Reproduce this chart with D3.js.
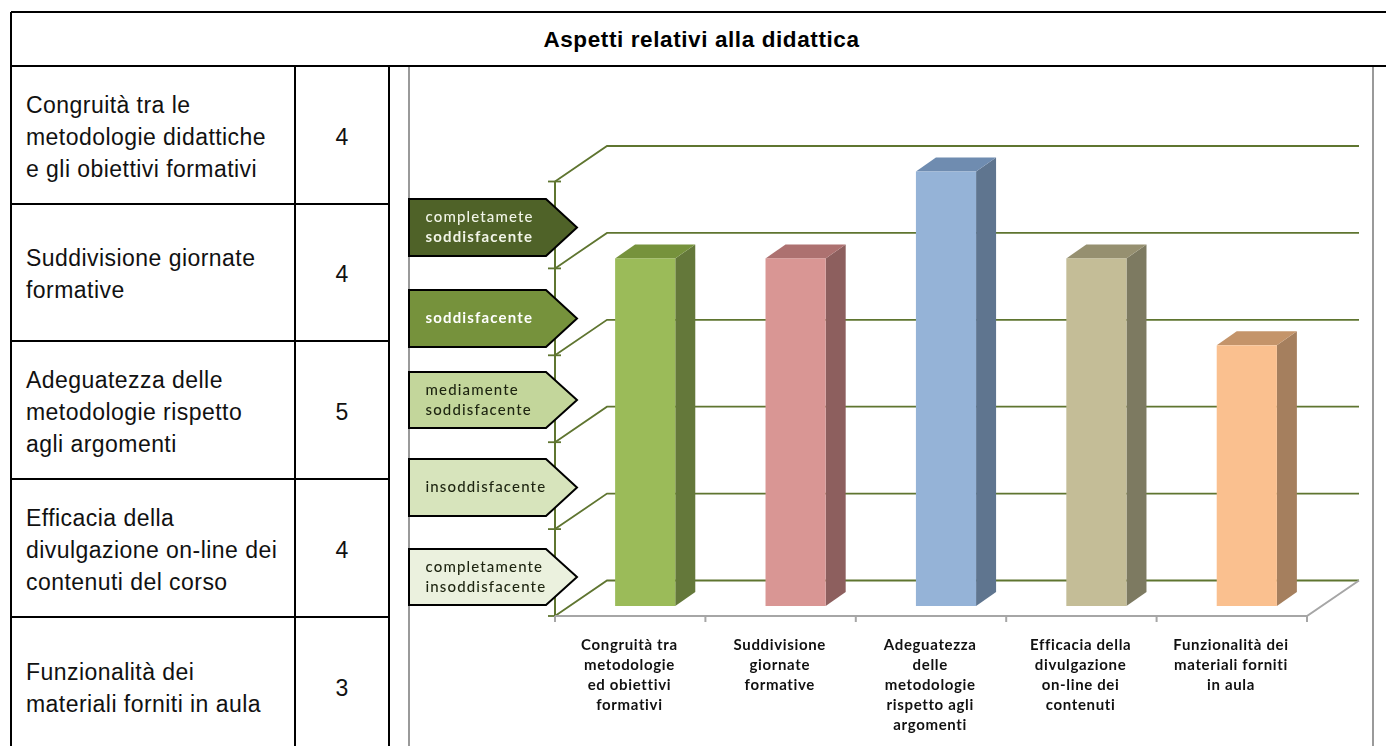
<!DOCTYPE html>
<html><head><meta charset="utf-8">
<script src="https://cdnjs.cloudflare.com/ajax/libs/d3/7.8.5/d3.min.js"></script>
<style>html,body{margin:0;padding:0;background:#fff;overflow:hidden}svg{display:block}.soft{filter:blur(0.35px)}</style>
</head><body><svg id="c" width="1386" height="746"></svg>
<script>
const title = "Aspetti relativi alla didattica";
const tableLabels = [
  ["Congruità tra le","metodologie didattiche","e gli obiettivi formativi"],
  ["Suddivisione giornate","formative"],
  ["Adeguatezza delle","metodologie rispetto","agli argomenti"],
  ["Efficacia della","divulgazione on-line dei","contenuti del corso"],
  ["Funzionalità dei","materiali forniti in aula"]
];
const values = [4,4,5,4,3];
const categories = ["a","b","c","d","e"];
const axisLabels = [
  ["Congruità tra","metodologie","ed obiettivi","formativi"],
  ["Suddivisione","giornate","formative"],
  ["Adeguatezza","delle","metodologie","rispetto agli","argomenti"],
  ["Efficacia della","divulgazione","on-line dei","contenuti"],
  ["Funzionalità dei","materiali forniti","in aula"]
];
const scaleLabels = [
  ["completamete","soddisfacente"],
  ["soddisfacente"],
  ["mediamente","soddisfacente"],
  ["insoddisfacente"],
  ["completamente","insoddisfacente"]
];
const yTicks = [0,1,2,3,4,5];

// styles / layout (kept apart from the data)
const barColors = [
  {front:"#9BBB59",top:"#76923C",side:"#64783A"},
  {front:"#D99694",top:"#AD7170",side:"#8D5F5E"},
  {front:"#95B3D7",top:"#6F8CB0",side:"#5F758F"},
  {front:"#C4BD97",top:"#969070",side:"#7D7A61"},
  {front:"#FAC08F",top:"#C4946A",side:"#A57F5E"}
];
const arrowFills = ["#4F6228","#76923C","#C3D69B","#D7E4BC","#EBF1DE"];
const arrowText = ["#F2F5E8","#FFFFFF","#1d2410","#1d2410","#1d2410"];
const arrowBoxes = [[199,256],[290,347],[372,428],[459,516],[549,605]];
const rowLines = [66,204,341,479,617,755];
const wallDx = 52, wallDy = -35.5, barDx = 15, barDy = -10, depthDx = 20, depthDy = -14;
const gridColor = "#5F7530", axisGray = "#A6A6A6";
const sansFont = "'Liberation Sans',Arial,sans-serif", chartFont = "Lato,sans-serif";

const svg = d3.select("#c");
const x = d3.scaleBand().domain(categories).range([555,1307]).paddingInner(0.6).paddingOuter(0.3);
const y = d3.scaleLinear().domain([0,5]).range([616,181.5]);
const poly = pts => pts.map(p=>p.join(",")).join(" ");

// table
const tbl = svg.append("g").attr("stroke","#000").attr("stroke-width",2);
[[11,12,1386,12],[11,12,11,746],[11,66,1386,66],[295,66,295,746],[389,66,389,746]]
  .forEach(l=>tbl.append("line").attr("x1",l[0]).attr("y1",l[1]).attr("x2",l[2]).attr("y2",l[3]));
rowLines.slice(1,5).forEach(v=>tbl.append("line").attr("x1",11).attr("x2",389).attr("y1",v).attr("y2",v));
svg.append("text").attr("x",701.5).attr("y",46.5).attr("text-anchor","middle")
  .attr("font-family",sansFont).attr("font-weight","bold").attr("font-size",22.5).attr("letter-spacing",0.6).attr("fill","#000").text(title);
tableLabels.forEach((ls,i)=>{
  const c = (rowLines[i]+rowLines[i+1])/2 + 1.5;
  const t = svg.append("g").attr("font-family",sansFont).attr("font-size",23).attr("letter-spacing",0.45).attr("fill","#111");
  ls.forEach((s,j)=>t.append("text").attr("x",26).attr("y",c+(j-(ls.length-1)/2)*32+8).text(s));
  t.append("text").attr("x",342).attr("y",c+8).attr("text-anchor","middle").text(values[i]);
});

// chart frame
const fr = svg.append("g").attr("stroke","#9A9A9A").attr("stroke-width",2);
fr.append("line").attr("x1",409).attr("x2",409).attr("y1",67).attr("y2",746);
fr.append("line").attr("x1",1373).attr("x2",1373).attr("y1",67).attr("y2",746);

// walls and grid
const g = svg.append("g").attr("fill","none");
yTicks.forEach(t=>{
  g.append("polyline").attr("stroke",gridColor).attr("stroke-width",1.8)
   .attr("points",poly([[555,y(t)],[555+wallDx,y(t)+wallDy],[1307+wallDx,y(t)+wallDy]]));
  g.append("line").attr("stroke",gridColor).attr("stroke-width",1.8)
   .attr("x1",548).attr("x2",561).attr("y1",y(t)).attr("y2",y(t));
});
g.append("line").attr("stroke",gridColor).attr("stroke-width",2)
 .attr("x1",555).attr("x2",555).attr("y1",y(5)).attr("y2",y(0));
// floor
g.append("polyline").attr("stroke",axisGray).attr("stroke-width",2)
 .attr("points",poly([[555,y(0)],[1307,y(0)],[1307+wallDx,y(0)+wallDy]]));
const step = x.step();
d3.range(6).forEach(i=>{
  const tx = 555+i*step;
  g.append("line").attr("stroke",axisGray).attr("stroke-width",2)
   .attr("x1",tx).attr("x2",tx).attr("y1",y(0)).attr("y2",y(0)+6);
});

// bars
values.forEach((v,i)=>{
  const k = categories[i], l = x(k)+barDx, r = l+x.bandwidth(), t = y(v)+barDy, b = y(0)+barDy;
  const c = barColors[i], bar = svg.append("g");
  bar.append("polygon").attr("fill",c.side)
     .attr("points",poly([[r,t],[r+depthDx,t+depthDy],[r+depthDx,b+depthDy],[r,b]]));
  bar.append("polygon").attr("fill",c.top)
     .attr("points",poly([[l,t],[l+depthDx,t+depthDy],[r+depthDx,t+depthDy],[r,t]]));
  bar.append("rect").attr("x",l).attr("y",t).attr("width",r-l).attr("height",b-t).attr("fill",c.front);
});

// category labels
axisLabels.forEach((ls,i)=>{
  const cx = x(categories[i])+x.bandwidth()/2 - 0.8;
  ls.forEach((s,j)=>svg.append("text").attr("class","soft").attr("x",cx).attr("y",649.5+j*20)
    .attr("text-anchor","middle").attr("font-family",chartFont).attr("font-weight",700)
    .attr("font-size",15).attr("letter-spacing",0.65).attr("fill","#111").text(s));
});

// arrows
scaleLabels.forEach((ls,i)=>{
  const [a,b] = arrowBoxes[i], m=(a+b)/2;
  svg.append("polygon").attr("fill",arrowFills[i]).attr("stroke","#000").attr("stroke-width",2)
    .attr("stroke-linejoin","miter")
    .attr("points",poly([[409,a],[546,a],[577,m],[546,b],[409,b]]));
  ls.forEach((s,j)=>svg.append("text").attr("class","soft").attr("x",425.5).attr("y",m+(j-(ls.length-1)/2)*20+4.5)
    .attr("font-family",chartFont).attr("font-size",15).attr("letter-spacing",1.15)
    .attr("font-weight",(i<2&&(s==="soddisfacente"))?700:500)
    .attr("fill",arrowText[i]).text(s));
});
</script></body></html>
